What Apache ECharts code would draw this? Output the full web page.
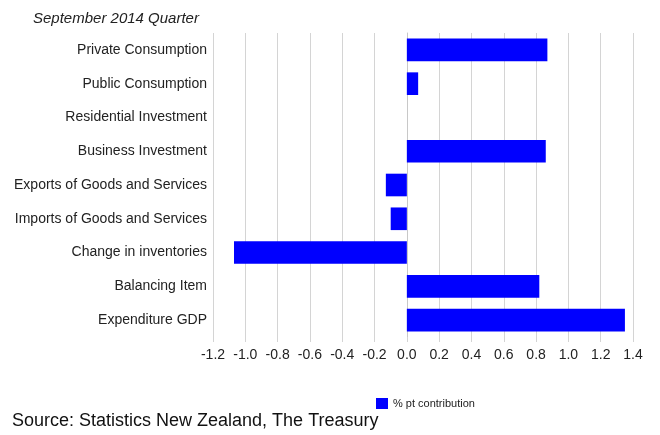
<!DOCTYPE html>
<html>
<head>
<meta charset="utf-8">
<script src="https://cdn.jsdelivr.net/npm/echarts@6/dist/echarts.min.js"></script>
<style>
  html, body { margin: 0; padding: 0; background: #fff; }
  #chart { width: 660px; height: 435px; }
</style>
</head>
<body>
<div id="chart"></div>
<script>
// 数据
var categories = [
    'Private Consumption',
    'Public Consumption',
    'Residential Investment',
    'Business Investment',
    'Exports of Goods and Services',
    'Imports of Goods and Services',
    'Change in inventories',
    'Balancing Item',
    'Expenditure GDP'
];
var contribution = [0.87, 0.07, 0, 0.86, -0.13, -0.10, -1.07, 0.82, 1.35];
var seriesName = '% pt contribution';

var fontName = '"Liberation Sans", Arial, sans-serif';

var myChart = echarts.init(document.getElementById('chart'));
var barColor = '#0000ff';

var option = {
    animation: false,
    title: {
        text: 'September 2014 Quarter',
        left: 28,
        top: 6,
        textStyle: {
            fontFamily: fontName,
            fontStyle: 'italic',
            fontWeight: 'normal',
            fontSize: 15,
            color: '#222'
        }
    },
    legend: {
        data: [seriesName],
        icon: 'rect',
        left: 371,
        top: 393,
        itemWidth: 12,
        itemHeight: 11,
        itemGap: 4,
        textStyle: { fontFamily: fontName, fontSize: 11, color: '#222' }
    },
    grid: {
        left: 213,
        right: 27,
        top: 33,
        bottom: 98
    },
    xAxis: {
        type: 'value',
        min: -1.2,
        max: 1.4,
        interval: 0.2,
        axisLine: { show: false },
        axisTick: { show: true, length: 5, lineStyle: { color: '#d4d4d4' } },
        splitLine: { show: true, lineStyle: { color: '#d4d4d4', width: 1 } },
        axisLabel: {
            margin: 11,
            fontFamily: fontName,
            fontSize: 14,
            color: '#222',
            formatter: function (v) { return v.toFixed(1); }
        }
    },
    yAxis: {
        type: 'category',
        inverse: true,
        data: categories,
        axisLine: { show: true, lineStyle: { color: '#c8c8c8' } },
        axisTick: { show: false },
        axisLabel: {
            margin: 6,
            fontFamily: fontName,
            fontSize: 14,
            color: '#222'
        }
    },
    series: [{
        name: seriesName,
        type: 'bar',
        data: contribution,
        barCategoryGap: '33%',
        itemStyle: { color: barColor }
    }],
    graphic: [{
        type: 'text',
        left: 12,
        top: 412,
        style: {
            text: 'Source: Statistics New Zealand, The Treasury',
            fontFamily: fontName,
            fontSize: 18,
            fill: '#111'
        }
    }]
};

myChart.setOption(option);
</script>
</body>
</html>
